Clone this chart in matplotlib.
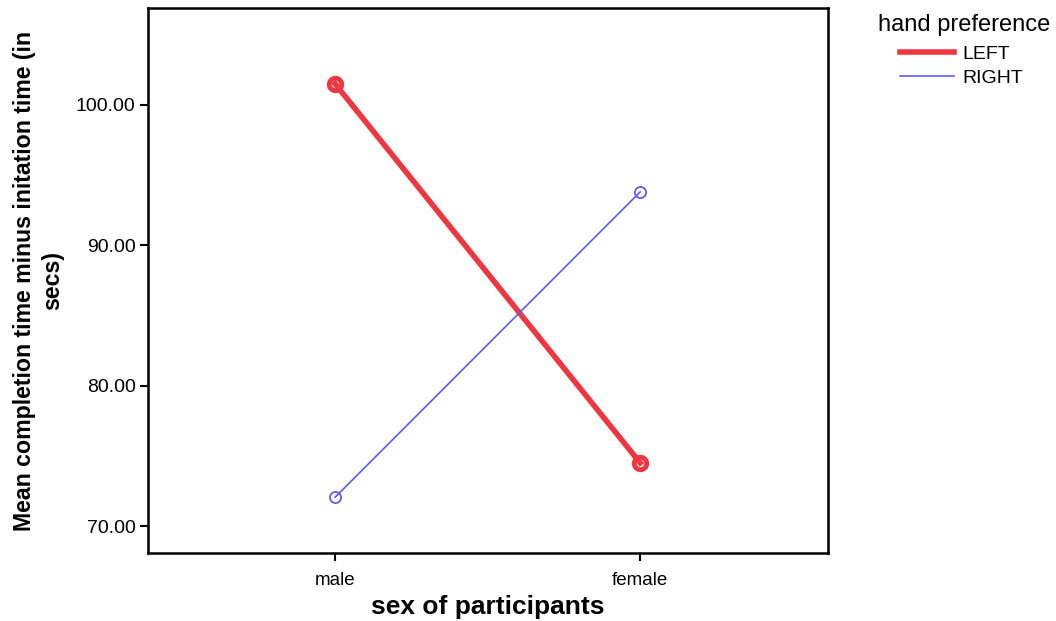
import matplotlib
matplotlib.use("Agg")
import matplotlib.pyplot as plt

plt.rcParams["font.family"] = ["Liberation Sans", "DejaVu Sans"]

categories = ["male", "female"]
left_means = [101.5, 74.5]
right_means = [72.05, 93.8]
yticks = [70, 80, 90, 100]

RED = "#ee3640"
BLUE = "#5c5cf0"

fig = plt.figure(figsize=(10.56, 6.21), dpi=100)
ax = fig.add_axes([0.1402, 0.1095, 0.644, 0.8776])

x = list(range(len(categories)))
ax.plot(x, left_means, color=RED, linewidth=4.0, marker="o", markersize=9,
        markerfacecolor="none", markeredgecolor=RED, markeredgewidth=3.5, label="LEFT")
ax.plot(x, right_means, color=BLUE, linewidth=1.2, marker="o", markersize=8,
        markerfacecolor="none", markeredgecolor=BLUE, markeredgewidth=1.3, label="RIGHT")

ax.set_xlim(-0.613, 1.616)
ax.set_ylim(68.08, 106.9)
ax.set_xticks(x)
ax.set_xticklabels(categories, fontsize=13.5)
ax.set_yticks(yticks)
ax.set_yticklabels([f"{v:.2f}" for v in yticks], fontsize=14)
ax.tick_params(axis="both", length=6, width=1.5, color="black", pad=3)
ax.tick_params(axis="x", pad=8)
for s in ax.spines.values():
    s.set_linewidth(1.8)

ax.set_xlabel("sex of participants", fontsize=19, fontweight="bold", labelpad=4)
ax.set_ylabel("Mean completion time minus initation time (in\nsecs)", fontsize=16.7,
              fontweight="bold", labelpad=8, linespacing=1.3)

fig.text(878 / 1056, 1 - 25 / 621, "hand preference", fontsize=17, ha="left", va="center")
leg = ax.legend(loc="upper left", bbox_to_anchor=(900 / 1056, 1 - 45 / 621),
                bbox_transform=fig.transFigure, frameon=False, fontsize=14,
                handlelength=2.8, handletextpad=0.4, borderpad=0,
                borderaxespad=0, labelspacing=0.35)
for h in leg.legend_handles:
    h.set_marker("")

fig.savefig("out.png", dpi=100)
